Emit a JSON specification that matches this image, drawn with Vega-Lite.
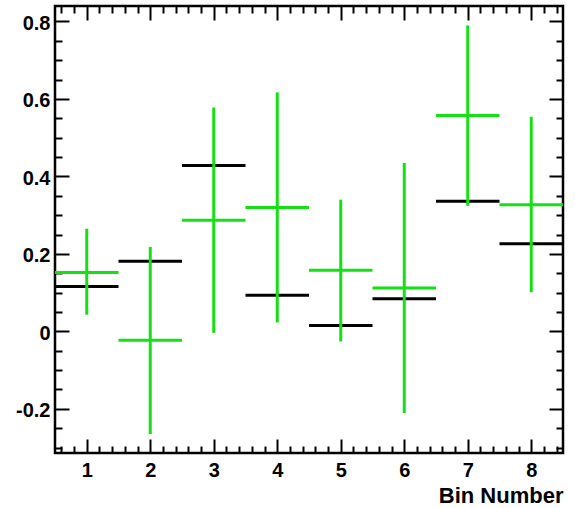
{
  "$schema": "https://vega.github.io/schema/vega-lite/v6.json",
  "width": 508,
  "height": 447,
  "autosize": "none",
  "padding": {"left": 55, "top": 6, "right": 12, "bottom": 55},
  "background": "white",
  "data": {
    "values": [
      {"bin": 1, "bin_lo": 0.5, "bin_hi": 1.5, "val": 0.152, "lo": 0.043, "hi": 0.265, "ref": 0.116},
      {"bin": 2, "bin_lo": 1.5, "bin_hi": 2.5, "val": -0.023, "lo": -0.265, "hi": 0.218, "ref": 0.181},
      {"bin": 3, "bin_lo": 2.5, "bin_hi": 3.5, "val": 0.287, "lo": -0.004, "hi": 0.578, "ref": 0.428},
      {"bin": 4, "bin_lo": 3.5, "bin_hi": 4.5, "val": 0.320, "lo": 0.023, "hi": 0.617, "ref": 0.093},
      {"bin": 5, "bin_lo": 4.5, "bin_hi": 5.5, "val": 0.158, "lo": -0.026, "hi": 0.340, "ref": 0.015},
      {"bin": 6, "bin_lo": 5.5, "bin_hi": 6.5, "val": 0.112, "lo": -0.211, "hi": 0.435, "ref": 0.084},
      {"bin": 7, "bin_lo": 6.5, "bin_hi": 7.5, "val": 0.557, "lo": 0.324, "hi": 0.790, "ref": 0.336},
      {"bin": 8, "bin_lo": 7.5, "bin_hi": 8.5, "val": 0.327, "lo": 0.101, "hi": 0.554, "ref": 0.226}
    ]
  },
  "layer": [
    {
      "mark": {"type": "rule", "color": "black", "strokeWidth": 3},
      "encoding": {
        "x": {
          "field": "bin_lo", "type": "quantitative",
          "scale": {"domain": [0.5, 8.5], "nice": false, "zero": false},
          "axis": {
            "orient": "bottom",
            "values": [0.6,0.8,1,1.2,1.4,1.6,1.8,2,2.2,2.4,2.6,2.8,3,3.2,3.4,3.6,3.8,4,4.2,4.4,4.6,4.8,5,5.2,5.4,5.6,5.8,6,6.2,6.4,6.6,6.8,7,7.2,7.4,7.6,7.8,8,8.2,8.4],
            "tickSize": {"condition": {"test": "datum.value % 1 === 0", "value": -14}, "value": -7},
            "labelExpr": "datum.value % 1 === 0 ? toString(datum.value) : ''",
            "labelPadding": 21,
            "labelBaseline": "top",
            "title": "Bin Number",
            "titleX": 508,
            "titleY": 49,
            "titleAlign": "right",
            "titleBaseline": "alphabetic",
            "titleFontSize": 22
          }
        },
        "x2": {"field": "bin_hi"},
        "y": {
          "field": "ref", "type": "quantitative",
          "scale": {"domain": [-0.314, 0.84], "nice": false, "zero": false},
          "axis": {
            "orient": "left",
            "values": [-0.3,-0.25,-0.2,-0.15,-0.1,-0.05,0,0.05,0.1,0.15,0.2,0.25,0.3,0.35,0.4,0.45,0.5,0.55,0.6,0.65,0.7,0.75,0.8],
            "tickSize": {"condition": {"test": "abs(datum.value*5 - round(datum.value*5)) < 0.000001", "value": -14}, "value": -7},
            "labelExpr": "abs(datum.value*5 - round(datum.value*5)) < 0.000001 ? toString(round(datum.value*10)/10) : ''",
            "labelPadding": 19,
            "labelOffset": 2,
            "title": null
          }
        }
      }
    },
    {
      "mark": {"type": "rule", "color": "#14e014", "strokeWidth": 3},
      "encoding": {
        "x": {
          "field": "bin", "type": "quantitative",
          "scale": {"domain": [0.5, 8.5], "nice": false, "zero": false},
          "axis": {
            "orient": "top",
            "values": [0.6,0.8,1,1.2,1.4,1.6,1.8,2,2.2,2.4,2.6,2.8,3,3.2,3.4,3.6,3.8,4,4.2,4.4,4.6,4.8,5,5.2,5.4,5.6,5.8,6,6.2,6.4,6.6,6.8,7,7.2,7.4,7.6,7.8,8,8.2,8.4],
            "tickSize": {"condition": {"test": "datum.value % 1 === 0", "value": -14}, "value": -7},
            "labels": false,
            "title": null
          }
        },
        "y": {
          "field": "lo", "type": "quantitative",
          "scale": {"domain": [-0.314, 0.84], "nice": false, "zero": false},
          "axis": {
            "orient": "right",
            "values": [-0.3,-0.25,-0.2,-0.15,-0.1,-0.05,0,0.05,0.1,0.15,0.2,0.25,0.3,0.35,0.4,0.45,0.5,0.55,0.6,0.65,0.7,0.75,0.8],
            "tickSize": {"condition": {"test": "abs(datum.value*5 - round(datum.value*5)) < 0.000001", "value": -14}, "value": -7},
            "labels": false,
            "title": null
          }
        },
        "y2": {"field": "hi"}
      }
    },
    {
      "mark": {"type": "rule", "color": "#14e014", "strokeWidth": 3},
      "encoding": {
        "x": {"field": "bin_lo", "type": "quantitative", "scale": {"domain": [0.5, 8.5], "nice": false, "zero": false}, "axis": null},
        "x2": {"field": "bin_hi"},
        "y": {"field": "val", "type": "quantitative", "scale": {"domain": [-0.314, 0.84], "nice": false, "zero": false}, "axis": null}
      }
    }
  ],
  "resolve": {"axis": {"x": "independent", "y": "independent"}},
  "config": {
    "view": {"stroke": "black", "strokeWidth": 2.5},
    "axis": {
      "domain": false,
      "grid": false,
      "ticks": true,
      "tickColor": "black",
      "tickWidth": 2,
      "labelFont": "Liberation Sans",
      "labelFontWeight": "bold",
      "labelFontSize": 20,
      "labelColor": "black",
      "labelOverlap": false,
      "labelFlush": false,
      "labelBound": false,
      "titleFont": "Liberation Sans",
      "titleFontWeight": "bold",
      "titleColor": "black"
    }
  }
}
